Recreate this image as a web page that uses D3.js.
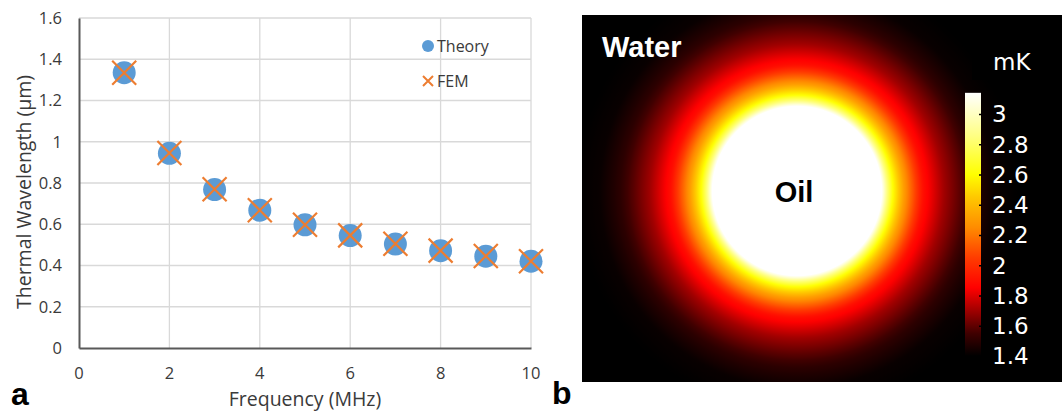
<!DOCTYPE html>
<html>
<head>
<meta charset="utf-8">
<script src="https://cdn.jsdelivr.net/npm/d3@7"></script>
<style>
  body { margin: 0; background: #fff; }
  svg { display: block; }
  .tick-label { font-family: "Open Sans", sans-serif; font-size: 16.5px; fill: #3a3a3a; }
  .axis-title { font-family: "Open Sans", sans-serif; font-size: 19.5px; fill: #3a3a3a; }
  .legend-label { font-family: "Open Sans", sans-serif; font-size: 16px; fill: #3a3a3a; }
  .panel-label { font-family: "Liberation Sans", Arial, sans-serif; font-size: 32px; font-weight: bold; fill: #000; }
  .map-label { font-family: "Liberation Sans", Arial, sans-serif; font-size: 29px; font-weight: bold; }
  .cbar-label { font-family: "DejaVu Sans", sans-serif; font-size: 23px; fill: #fff; }
</style>
</head>
<body>
<div class="figure"></div>
<script>
// panel a: thermal wavelength vs frequency
var frequency = [1, 2, 3, 4, 5, 6, 7, 8, 9, 10];
var theory = [1.335, 0.944, 0.768, 0.668, 0.597, 0.545, 0.504, 0.472, 0.445, 0.421];
var fem = [1.335, 0.945, 0.770, 0.668, 0.598, 0.546, 0.505, 0.472, 0.446, 0.421];
var xTicks = [0, 2, 4, 6, 8, 10];
var yTicks = [0, 0.2, 0.4, 0.6, 0.8, 1, 1.2, 1.4, 1.6];
var seriesNames = ["Theory", "FEM"];

// panel b: radial temperature profile (r / oil radius, mK) and colour bar
var profileR = [0, 1.0, 1.06, 1.13, 1.26, 1.48, 1.73, 2.08, 2.32, 2.6];
var profileT = [3.14, 3.14, 2.85, 2.6, 2.3, 1.9, 1.7, 1.5, 1.42, 1.4];
var cmapValues = [1.4, 1.55, 1.7, 1.85, 2.05, 2.25, 2.45, 2.6, 2.85, 3.14];
var cmapColors = ["#000000", "#400000", "#a00000", "#ff0000", "#ff3c00", "#ff8c00", "#ffc800", "#ffff00", "#ffff80", "#ffffff"];
var cbarTicks = [1.4, 1.6, 1.8, 2, 2.2, 2.4, 2.6, 2.8, 3];

var W = 1062, H = 412;

var svg = d3.select(".figure").append("svg")
    .attr("width", W)
    .attr("height", H);

var defs = svg.append("defs");

/* ---------- panel a ---------- */
var plot = { left: 79, right: 531, top: 18, bottom: 348 };

var x = d3.scaleLinear().domain([0, 10]).range([plot.left, plot.right]);
var y = d3.scaleLinear().domain([0, 1.6]).range([plot.bottom, plot.top]);

var grid = svg.append("g").attr("class", "grid");

grid.selectAll(".hgrid")
    .data(yTicks.filter(function(d) { return d > 0; }))
    .enter().append("line")
    .attr("x1", plot.left).attr("x2", plot.right)
    .attr("y1", function(d) { return y(d); })
    .attr("y2", function(d) { return y(d); })
    .attr("stroke", "#d9d9d9")
    .attr("stroke-width", 1.3);

grid.selectAll(".vgrid")
    .data(xTicks.filter(function(d) { return d > 0; }))
    .enter().append("line")
    .attr("y1", plot.top).attr("y2", plot.bottom)
    .attr("x1", function(d) { return x(d); })
    .attr("x2", function(d) { return x(d); })
    .attr("stroke", "#d9d9d9")
    .attr("stroke-width", 1.3);

// axes (lines only, labels drawn below)
svg.append("g")
    .attr("transform", "translate(0," + plot.bottom + ")")
    .call(d3.axisBottom(x).tickValues(xTicks).tickSize(0).tickFormat(""))
    .call(function(g) { g.select(".domain").attr("stroke", "#595959").attr("stroke-width", 2); });

svg.append("g")
    .attr("transform", "translate(" + plot.left + ",0)")
    .call(d3.axisLeft(y).tickValues(yTicks).tickSize(0).tickFormat(""))
    .call(function(g) { g.select(".domain").attr("stroke", "#595959").attr("stroke-width", 2); });

svg.selectAll(".ylab")
    .data(yTicks)
    .enter().append("text")
    .attr("class", "tick-label")
    .attr("x", 62)
    .attr("y", function(d) { return y(d); })
    .attr("dy", "0.35em")
    .attr("text-anchor", "end")
    .text(function(d) { return d3.format("~g")(d); });

svg.selectAll(".xlab")
    .data(xTicks)
    .enter().append("text")
    .attr("class", "tick-label")
    .attr("x", function(d) { return x(d); })
    .attr("y", 373)
    .attr("dy", "0.35em")
    .attr("text-anchor", "middle")
    .text(function(d) { return d; });

svg.append("text")
    .attr("class", "axis-title")
    .attr("x", 305)
    .attr("y", 399)
    .attr("dy", "0.35em")
    .attr("text-anchor", "middle")
    .text("Frequency (MHz)");

svg.append("text")
    .attr("class", "axis-title")
    .attr("transform", "translate(24," + 192 + ") rotate(-90)")
    .attr("dy", "0.35em")
    .attr("text-anchor", "middle")
    .text("Thermal Wavelength (\u00b5m)");

var pts = frequency.map(function(f, i) { return { f: f, theory: theory[i], fem: fem[i] }; });

svg.append("g").selectAll("circle")
    .data(pts)
    .enter().append("circle")
    .attr("cx", function(d) { return x(d.f); })
    .attr("cy", function(d) { return y(d.theory); })
    .attr("r", 11.5)
    .attr("fill", "#5b9bd5");

function cross(h) {
    return "M" + (-h) + "," + (-h) + "L" + h + "," + h + "M" + (-h) + "," + h + "L" + h + "," + (-h);
}

svg.append("g").selectAll("path")
    .data(pts)
    .enter().append("path")
    .attr("d", cross(12))
    .attr("transform", function(d) { return "translate(" + x(d.f) + "," + y(d.fem) + ")"; })
    .attr("fill", "none")
    .attr("stroke", "#ed7d31")
    .attr("stroke-width", 2.2);

// legend
var legend = svg.append("g").attr("transform", "translate(428,46)");
legend.append("circle").attr("r", 6).attr("fill", "#5b9bd5");
legend.append("path")
    .attr("d", cross(5))
    .attr("transform", "translate(0,35)")
    .attr("fill", "none")
    .attr("stroke", "#ed7d31")
    .attr("stroke-width", 2);
legend.selectAll("text")
    .data(seriesNames)
    .enter().append("text")
    .attr("class", "legend-label")
    .attr("x", 9)
    .attr("y", function(d, i) { return i * 35; })
    .attr("dy", "0.35em")
    .text(function(d) { return d; });

svg.append("text").attr("class", "panel-label").attr("x", 11).attr("y", 405).text("a");

/* ---------- panel b ---------- */
var box = { left: 582, top: 15, right: W, bottom: 382 };
var center = [797, 191];

var rPx = d3.scaleLinear().domain([0, 1]).range([0, 85]);
var color = d3.scaleLinear().domain(cmapValues).range(cmapColors).clamp(true);
var profile = d3.scaleLinear().domain(profileR).range(profileT).clamp(true);

defs.append("clipPath").attr("id", "boxclip")
    .append("rect")
    .attr("x", box.left).attr("y", box.top)
    .attr("width", box.right - box.left).attr("height", box.bottom - box.top);

var rMax = d3.max(profileR);
var radial = defs.append("radialGradient")
    .attr("id", "field")
    .attr("gradientUnits", "userSpaceOnUse")
    .attr("cx", center[0]).attr("cy", center[1])
    .attr("r", rPx(rMax));

radial.selectAll("stop")
    .data(d3.range(0, 121).map(function(i) { return i / 120; }))
    .enter().append("stop")
    .attr("offset", function(d) { return d; })
    .attr("stop-color", function(d) { return color(profile(d * rMax)); });

var map = svg.append("g").attr("clip-path", "url(#boxclip)");

map.append("rect")
    .attr("x", box.left).attr("y", box.top)
    .attr("width", box.right - box.left).attr("height", box.bottom - box.top)
    .attr("fill", "#000");

map.append("circle")
    .attr("cx", center[0]).attr("cy", center[1])
    .attr("r", rPx(rMax))
    .attr("fill", "url(#field)");

// black patch behind unit label
map.append("rect")
    .attr("x", 972).attr("y", 23)
    .attr("width", 90).attr("height", 57)
    .attr("fill", "#000");

map.append("text")
    .attr("class", "map-label")
    .attr("x", 602).attr("y", 47)
    .attr("dy", "0.35em")
    .attr("fill", "#fff")
    .text("Water");

map.append("text")
    .attr("class", "map-label")
    .attr("x", 794).attr("y", 192)
    .attr("dy", "0.35em")
    .attr("text-anchor", "middle")
    .attr("fill", "#000")
    .text("Oil");

// colour bar
var cbar = { x: 965, w: 16 };
var cy = d3.scaleLinear().domain([1.4, 3.0]).range([356, 114]);
var cTop = d3.max(cmapValues), cBot = d3.min(cmapValues);

var lin = defs.append("linearGradient")
    .attr("id", "cbar")
    .attr("x1", 0).attr("x2", 0).attr("y1", 1).attr("y2", 0);

lin.selectAll("stop")
    .data(cmapValues)
    .enter().append("stop")
    .attr("offset", function(d) { return (d - cBot) / (cTop - cBot); })
    .attr("stop-color", function(d) { return color(d); });

svg.append("rect")
    .attr("x", cbar.x).attr("y", cy(cTop))
    .attr("width", cbar.w).attr("height", cy(cBot) - cy(cTop))
    .attr("fill", "url(#cbar)");

svg.append("g")
    .attr("transform", "translate(" + (cbar.x + cbar.w) + ",0)")
    .call(d3.axisRight(cy).tickValues(cbarTicks).tickSize(3).tickFormat(""))
    .call(function(g) {
        g.select(".domain").remove();
        g.selectAll("line").attr("stroke", "#000").attr("stroke-width", 1.5).attr("transform", "translate(-2,0)");
    });

svg.selectAll(".cbar-label")
    .data(cbarTicks)
    .enter().append("text")
    .attr("class", "cbar-label")
    .attr("x", 992)
    .attr("y", function(d) { return cy(d); })
    .attr("dy", "0.36em")
    .text(function(d) { return d3.format("~g")(d); });

svg.append("text")
    .attr("class", "cbar-label")
    .attr("x", 993).attr("y", 62)
    .attr("dy", "0.36em")
    .text("mK");

svg.append("text").attr("class", "panel-label").attr("x", 552).attr("y", 404).text("b");
</script>
</body>
</html>
